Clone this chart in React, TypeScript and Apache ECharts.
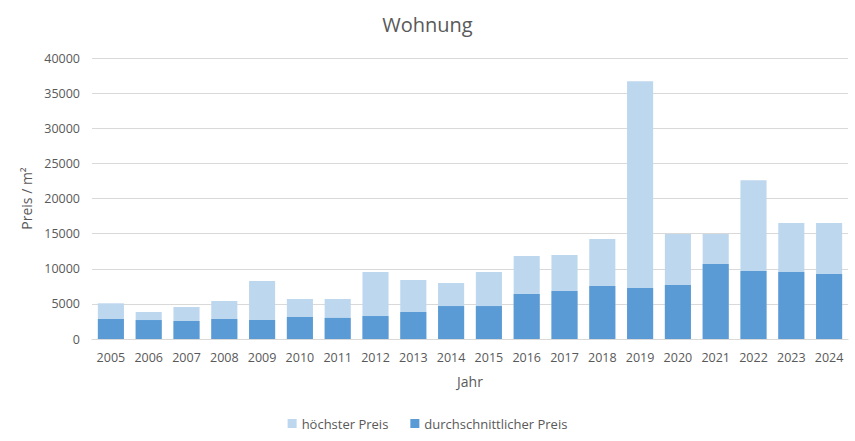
import React, { useEffect, useRef } from "react";
import * as echarts from "echarts";

const years = ["2005","2006","2007","2008","2009","2010","2011","2012","2013","2014","2015","2016","2017","2018","2019","2020","2021","2022","2023","2024"];
const hoechsterPreis = [5080,3840,4550,5400,8250,5700,5700,9540,8400,7970,9530,11800,11950,14220,36690,14930,14930,22610,16500,16500];
const durchschnittPreis = [2850,2700,2560,2850,2700,3130,3000,3270,3840,4690,4690,6400,6830,7540,7250,7680,10670,9670,9530,9240];
const yTicks = { min: 0, max: 40000, interval: 5000 };

const FONT = "'Open Sans', 'Noto Sans', sans-serif";
const TXT = "#595959";

export default function App() {
  const ref = useRef<HTMLDivElement>(null);
  useEffect(() => {
    if (!ref.current) return;
    const chart = echarts.init(ref.current, null, { renderer: "svg" });
    chart.setOption({
      animation: false,
      textStyle: { fontFamily: FONT },
      title: {
        text: "Wohnung",
        left: "center",
        top: 9,
        textStyle: { fontFamily: FONT, fontSize: 20, fontWeight: "normal", color: TXT },
      },
      legend: {
        bottom: 6,
        left: "center",
        itemWidth: 9,
        itemHeight: 9,
        itemGap: 22,
        textStyle: { fontFamily: FONT, fontSize: 13, color: TXT },
        data: [
          { name: "höchster Preis", icon: "rect" },
          { name: "durchschnittlicher Preis", icon: "rect" },
        ],
      },
      grid: { left: 92, right: 7, top: 58, bottom: 102, containLabel: false },
      xAxis: {
        type: "category",
        data: years,
        name: "Jahr",
        nameLocation: "middle",
        nameGap: 35,
        nameTextStyle: { fontFamily: FONT, fontSize: 14, color: TXT },
        axisLine: { lineStyle: { color: "#d9d9d9" } },
        axisTick: { show: false },
        axisLabel: { fontFamily: FONT, fontSize: 12.5, color: TXT, margin: 12, interval: 0 },
      },
      yAxis: {
        type: "value",
        min: yTicks.min,
        max: yTicks.max,
        interval: yTicks.interval,
        name: "Preis / m²",
        nameLocation: "middle",
        nameGap: 58,
        nameTextStyle: { fontFamily: FONT, fontSize: 14, color: TXT },
        axisLine: { show: false },
        axisTick: { show: false },
        axisLabel: { fontFamily: FONT, fontSize: 12.5, color: TXT, margin: 12, formatter: (v: number) => String(v) },
        splitLine: { lineStyle: { color: "#d9d9d9" } },
      },
      series: [
        {
          name: "höchster Preis",
          type: "bar",
          data: hoechsterPreis,
          barWidth: "69%",
          barGap: "-100%",
          itemStyle: { color: "#BDD7EE" },
          z: 1,
        },
        {
          name: "durchschnittlicher Preis",
          type: "bar",
          data: durchschnittPreis,
          barWidth: "69%",
          barGap: "-100%",
          itemStyle: { color: "#5B9BD5" },
          z: 2,
        },
      ],
    });
    return () => chart.dispose();
  }, []);
  return (
    <div
      ref={ref}
      style={{ position: "fixed", left: 0, top: 0, width: 855, height: 441, background: "#fff" }}
    />
  );
}
